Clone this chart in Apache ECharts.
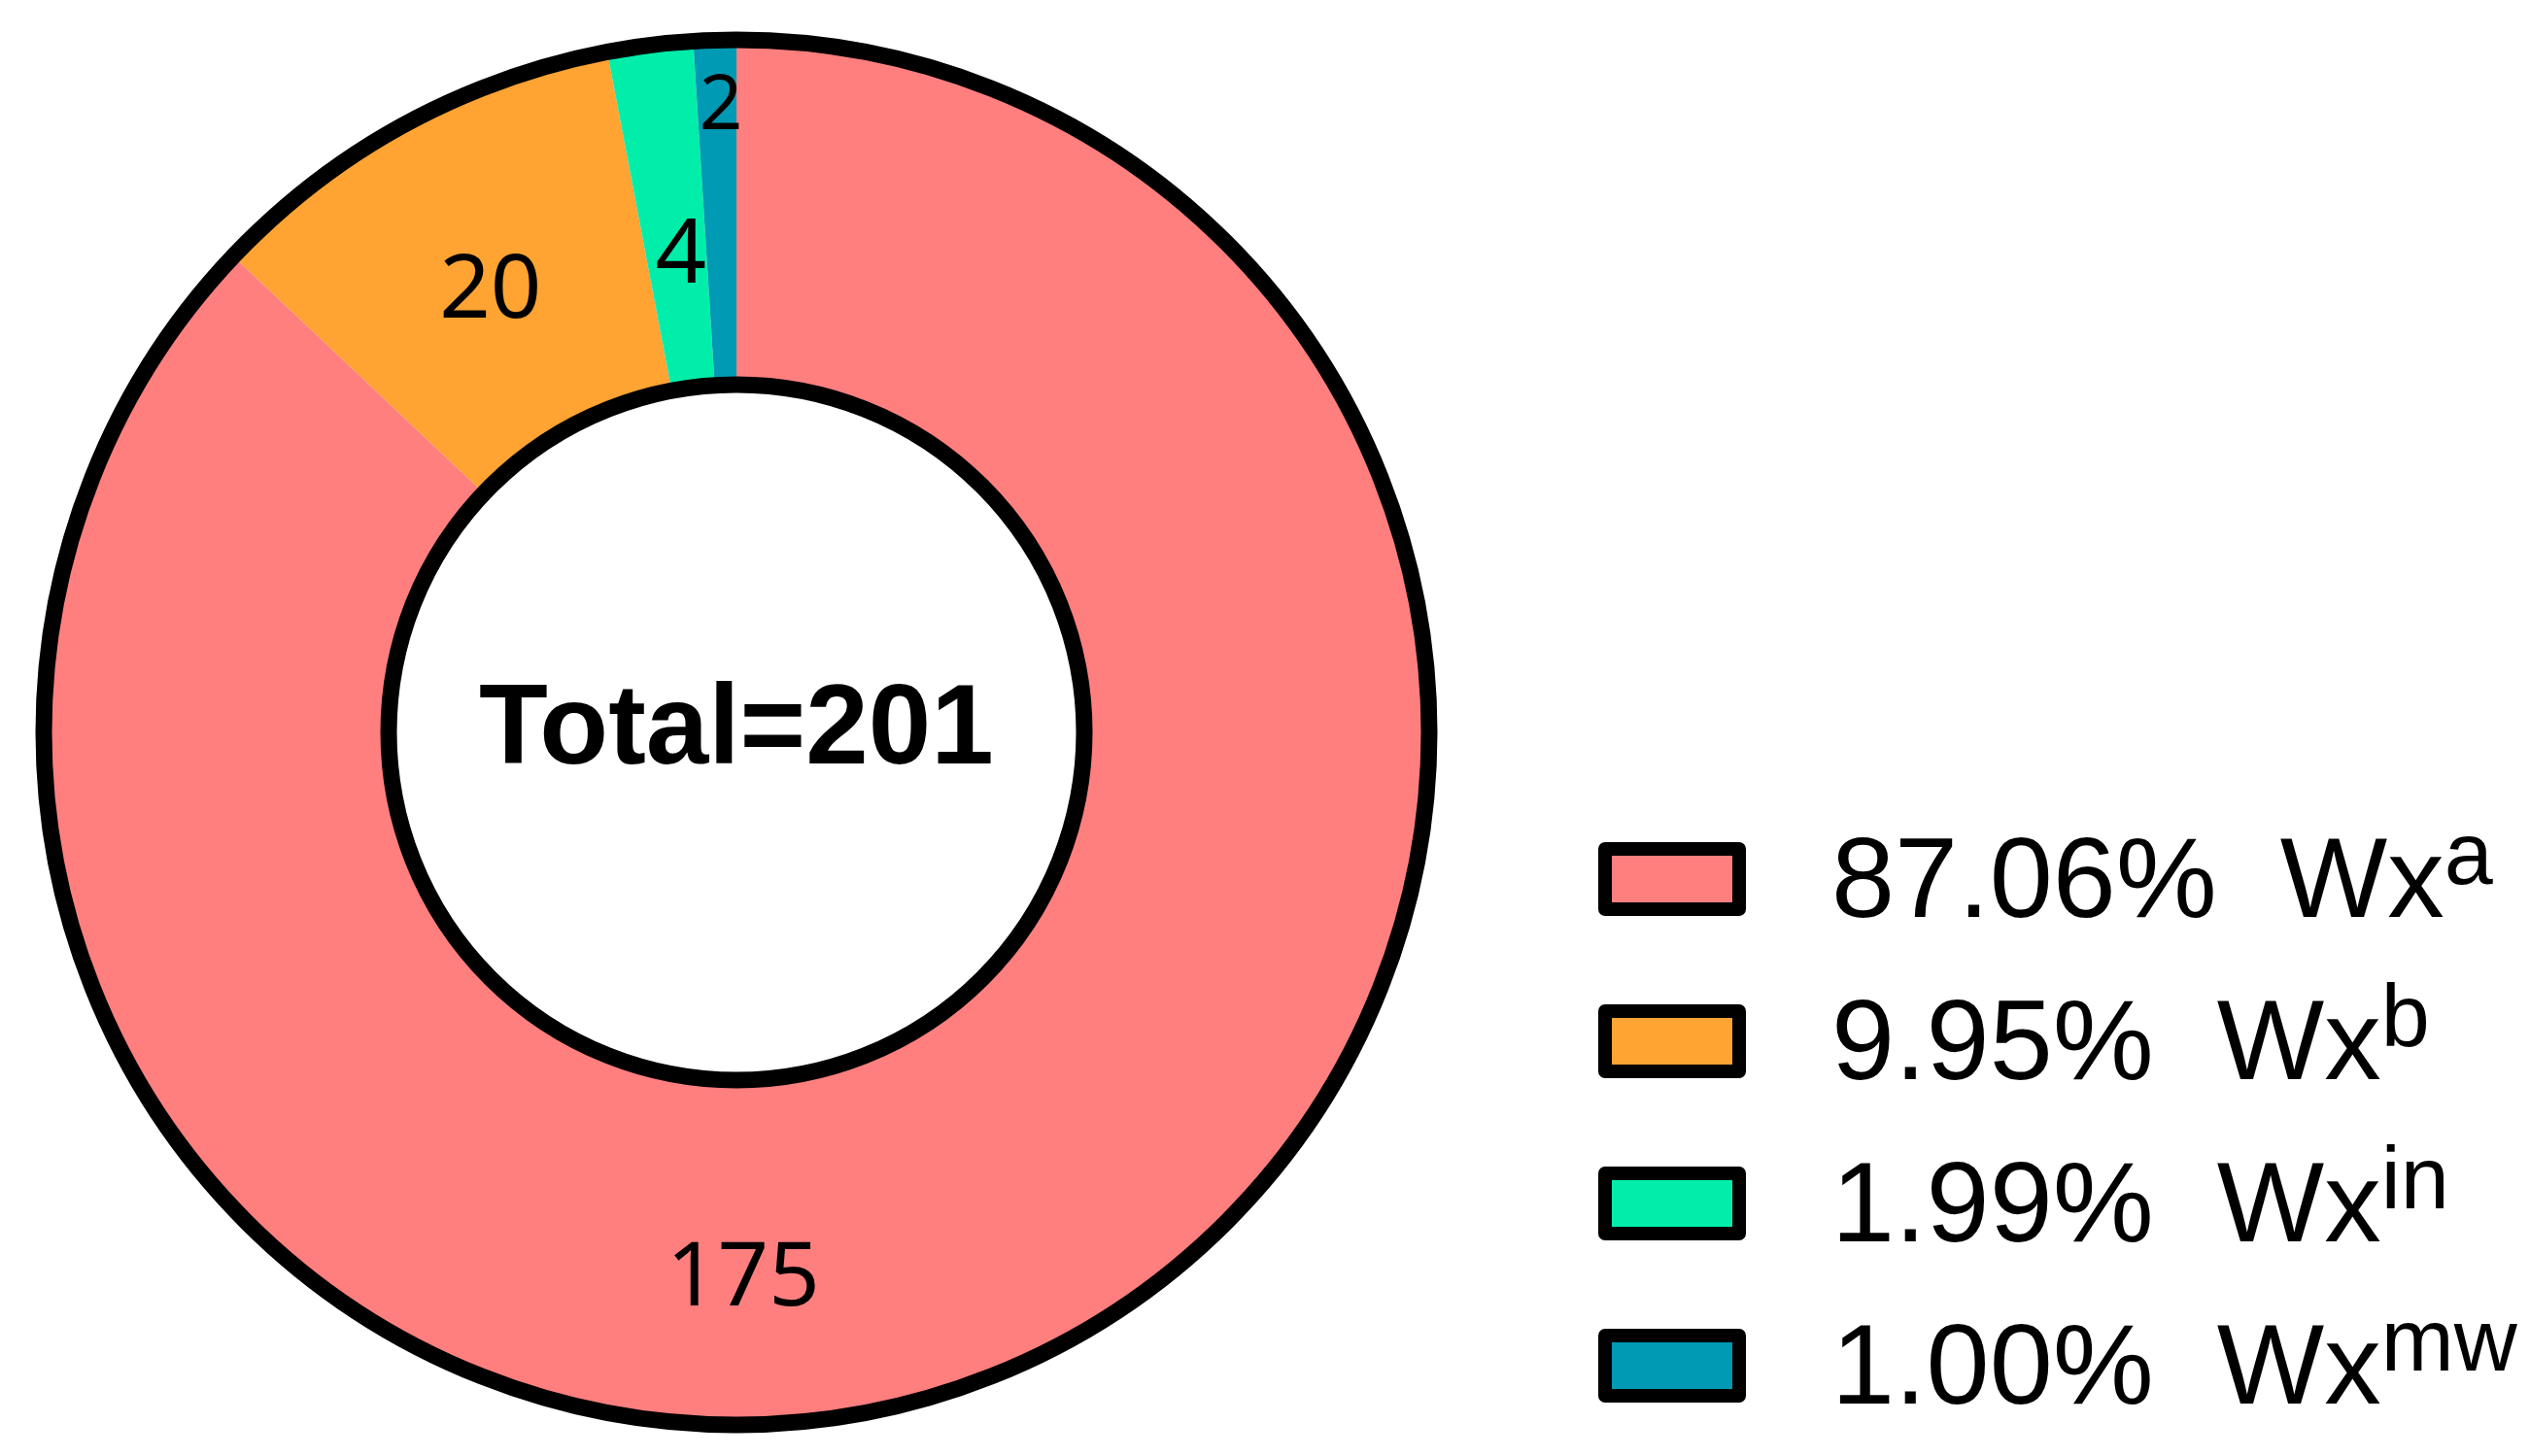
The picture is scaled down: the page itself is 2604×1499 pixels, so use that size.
<!DOCTYPE html>
<html>
<head>
<meta charset="utf-8">
<script src="https://cdn.jsdelivr.net/npm/echarts@6/dist/echarts.min.js"></script>
<style>
  html, body { margin: 0; padding: 0; background: #fff; }
  #chart { width: 2604px; height: 1499px; }
</style>
</head>
<body>
<div id="chart"></div>
<script>
// ---- data ----
const categories = ['Wxa', 'Wxb', 'Wxin', 'Wxmw'];
const superscripts = ['a', 'b', 'in', 'mw'];
const values = [175, 20, 4, 2];
const colors = ['#FF7F7F', '#FFA333', '#00EEAA', '#009AB4'];

// ---- derived ----
const total = values.reduce((s, v) => s + v, 0);
const CENTER = [758, 754];
const RADIUS = [358, 713];

// label placement tweaks (style only)
const labelOffsets = [[-206, 69], [5, 19], [10, 45], [1, -105]];
const labelSizes = [92, 92, 92, 78];

const chart = echarts.init(document.getElementById('chart'), null, { renderer: 'canvas' });

const pieData = categories.map((name, i) => ({
  name: name,
  value: values[i],
  itemStyle: { color: colors[i] },
  label: { offset: labelOffsets[i], fontSize: labelSizes[i] }
}));

const option = {
  backgroundColor: '#ffffff',
  animation: false,
  legend: {
    orient: 'vertical',
    left: 1645,
    top: 840,
    padding: 0,
    itemWidth: 138,
    itemHeight: 62,
    itemGap: 37,
    icon: 'rect',
    selectedMode: false,
    data: categories,
    itemStyle: { borderColor: '#000', borderWidth: 14 },
    formatter: function (name) {
      const i = categories.indexOf(name);
      const pct = (values[i] / total * 100).toFixed(2) + '%';
      return '{g| }{p|' + pct + '  Wx}{s|' + superscripts[i] + '}';
    },
    textStyle: {
      color: '#000',
      fontFamily: "'Liberation Sans', Arial, sans-serif",
      rich: {
        g: { width: 90, lineHeight: 130, fontSize: 20 },
        p: { fontSize: 117, lineHeight: 94, verticalAlign: 'bottom', color: '#000', fontFamily: "'Liberation Sans', Arial, sans-serif" },
        s: { fontSize: 90, lineHeight: 66, verticalAlign: 'top', color: '#000', fontFamily: "'Liberation Sans', Arial, sans-serif" }
      }
    }
  },
  series: [
    {
      type: 'pie',
      center: CENTER,
      radius: RADIUS,
      startAngle: 90,
      clockwise: true,
      silent: true,
      avoidLabelOverlap: false,
      itemStyle: { borderWidth: 0 },
      label: {
        show: true,
        position: 'inside',
        formatter: '{c}',
        color: '#000',
        fontFamily: "'Noto Sans', 'Open Sans', sans-serif",
        fontSize: 92
      },
      labelLine: { show: false },
      emphasis: { disabled: true },
      data: pieData
    },
    {
      type: 'pie',
      center: CENTER,
      radius: RADIUS,
      silent: true,
      z: 5,
      itemStyle: { color: 'rgba(0,0,0,0)', borderColor: '#000', borderWidth: 17 },
      label: {
        show: true,
        position: 'center',
        formatter: 'Total=' + total,
        color: '#000',
        fontWeight: 'bold',
        fontSize: 116,
        fontFamily: "'Liberation Sans', Arial, sans-serif"
      },
      labelLine: { show: false },
      emphasis: { disabled: true },
      data: [{ name: 'outline', value: total }]
    }
  ]
};

chart.setOption(option);
</script>
</body>
</html>
